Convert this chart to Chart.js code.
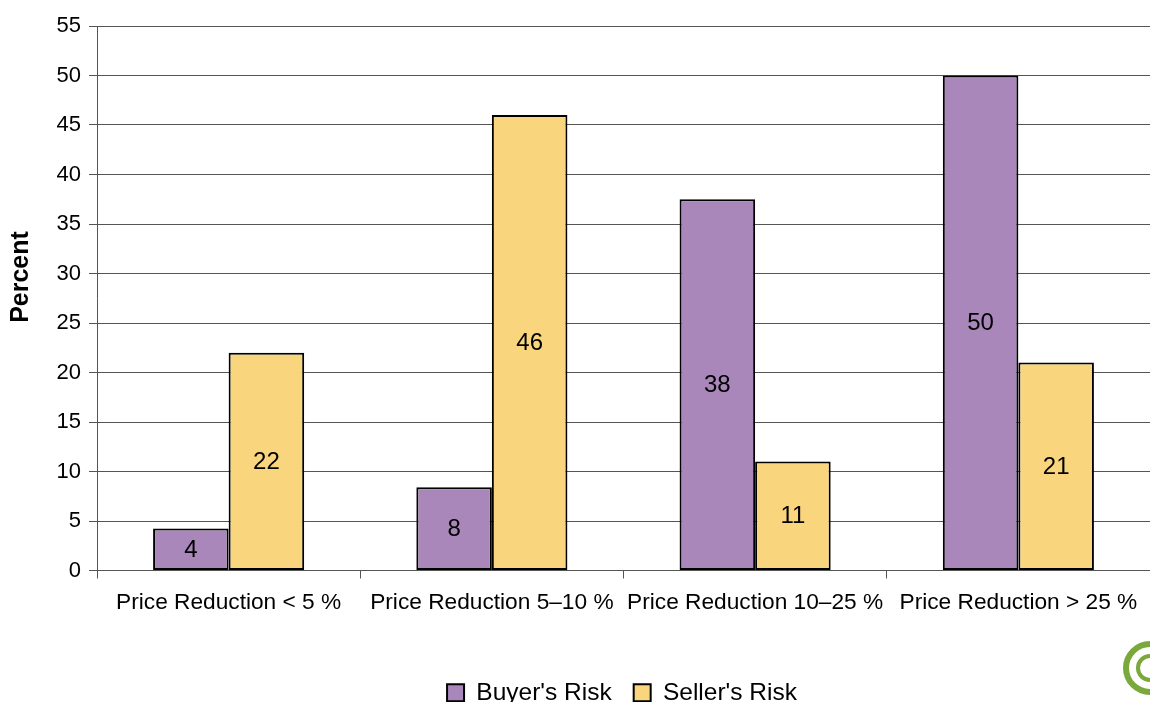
<!DOCTYPE html>
<html>
<head>
<meta charset="utf-8">
<script src="https://cdn.jsdelivr.net/npm/chart.js@4"></script>
<style>
  html, body { margin: 0; padding: 0; background: #fff; overflow: hidden; }
  #wrap { width: 1150px; height: 702px; position: relative; }
</style>
</head>
<body>
<div id="wrap"><canvas id="chart"></canvas></div>
<script>
const categories = ['Price Reduction < 5 %', 'Price Reduction 5\u201310 %', 'Price Reduction 10\u201325 %', 'Price Reduction > 25 %'];
const buyerRisk = [4.25, 8.4, 37.5, 50];
const sellerRisk = [22, 46, 11, 21];
const yTicks = [0, 5, 10, 15, 20, 25, 30, 35, 40, 45, 50, 55];

const FONT = "'Liberation Sans', Arial, sans-serif";

// numbers in the middle of each bar
const barLabels = {
    id: 'barLabels',
    afterDatasetsDraw(chart) {
        const ctx = chart.ctx;
        ctx.save();
        ctx.font = '24px ' + FONT;
        ctx.fillStyle = '#000';
        ctx.textAlign = 'center';
        ctx.textBaseline = 'middle';
        chart.data.datasets.forEach((ds, i) => {
            chart.getDatasetMeta(i).data.forEach((bar, j) => {
                const y = (bar.y + bar.base) / 2;
                ctx.fillText(String(Math.round(ds.data[j])), bar.x, y + 1);
            });
        });
        ctx.restore();
    }
};

// y axis title, drawn by hand so it sits where the original has it
const yTitle = {
    id: 'yTitle',
    afterDraw(chart) {
        const ctx = chart.ctx;
        ctx.save();
        ctx.translate(21, 277);
        ctx.rotate(-Math.PI / 2);
        ctx.font = 'bold 25px ' + FONT;
        ctx.fillStyle = '#000';
        ctx.textAlign = 'center';
        ctx.textBaseline = 'middle';
        ctx.fillText('Percent', 0, 0);
        ctx.restore();
    }
};

// legend in the original is centred under the plot, not the whole canvas
const legendShift = {
    id: 'legendShift',
    afterLayout(chart) {
        const lg = chart.legend;
        if (lg) {
            lg.left = 94;
            lg.width = lg.right - lg.left;
        }
    }
};

// small green logo in the corner
const logo = {
    id: 'logo',
    afterDraw(chart) {
        const ctx = chart.ctx;
        ctx.save();
        ctx.strokeStyle = '#7aa83a';
        ctx.lineWidth = 6;
        ctx.beginPath();
        ctx.arc(1150, 668, 24, 0, Math.PI * 2);
        ctx.stroke();
        ctx.lineWidth = 4;
        ctx.beginPath();
        ctx.arc(1150, 668, 12, 0, Math.PI * 2);
        ctx.stroke();
        ctx.restore();
    }
};

new Chart(document.getElementById('chart'), {
    type: 'bar',
    data: {
        labels: categories,
        datasets: [{
            label: "Buyer's Risk",
            data: buyerRisk,
            backgroundColor: '#a987ba',
            borderColor: '#000',
            borderWidth: 2,
            borderSkipped: false
        }, {
            label: "Seller's Risk",
            data: sellerRisk,
            backgroundColor: '#f9d57d',
            borderColor: '#000',
            borderWidth: 2,
            borderSkipped: false
        }]
    },
    options: {
        responsive: true,
        maintainAspectRatio: false,
        animation: false,
        layout: { padding: { top: 26, right: 0, bottom: -13, left: 0 } },
        datasets: { bar: { categoryPercentage: 0.574, barPercentage: 1 } },
        plugins: {
            legend: {
                position: 'bottom',
                labels: {
                    font: { family: FONT, size: 24.5 },
                    color: '#000',
                    boxWidth: 17,
                    boxHeight: 17,
                    padding: 22,
                    useBorderRadius: false
                }
            },
            tooltip: { enabled: false }
        },
        scales: {
            x: {
                grid: { display: true, drawOnChartArea: false, color: '#555', tickLength: 8, offset: true },
                border: { color: '#555' },
                ticks: { font: { family: FONT, size: 22.7 }, color: '#000', padding: 11, maxRotation: 0 },
                afterFit(scale) { scale.height = 88; }
            },
            y: {
                min: 0,
                max: 55,
                afterBuildTicks(scale) { scale.ticks = yTicks.map(v => ({ value: v })); },
                grid: { color: '#555', tickLength: 8 },
                border: { color: '#555' },
                ticks: { font: { family: FONT, size: 22 }, color: '#000', padding: 8 },
                afterFit(scale) { scale.width = 97; }
            }
        }
    },
    plugins: [barLabels, yTitle, legendShift, logo]
});
</script>
</body>
</html>
